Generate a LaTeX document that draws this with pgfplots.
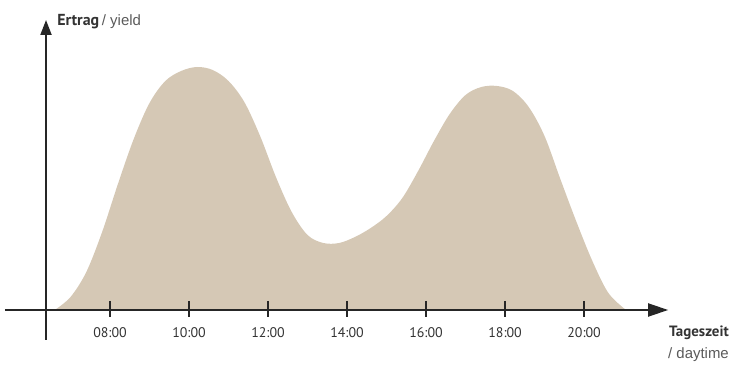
\documentclass[border=0pt]{standalone}
\usepackage{pgfplots}
\pgfplotsset{compat=1.18}
\usetikzlibrary{arrows.meta}
\usepackage{fontspec}
\setmainfont{PT Sans}
\newfontfamily\helv{Liberation Sans}
\definecolor{tan}{HTML}{D5C8B5}
\definecolor{txt}{HTML}{333333}
\definecolor{gtxt}{HTML}{5A5A5A}
\begin{document}
\begin{tikzpicture}
\begin{axis}[
  width=729bp, height=367bp, scale only axis,
  xmin=5.215, xmax=23.67, ymin=-57, ymax=310,
  hide axis, clip=false,
]
\path (rel axis cs:0,0) rectangle (rel axis cs:1,1);
\addplot[fill=tan, draw=none, smooth, tension=0.55] coordinates {
(6.6,0) (7.0,13) (7.4,38) (7.8,78) (8.2,126) (8.6,171) (9.0,207) (9.4,229) (9.8,239)
(10.2,243) (10.6,240) (11.0,229) (11.4,208) (11.8,174) (12.2,133) (12.6,98) (13.0,75)
(13.4,67) (13.8,67) (14.2,73) (14.6,82) (15.0,94) (15.4,112) (15.8,139) (16.2,169)
(16.6,196) (17.0,215) (17.4,223) (17.8,224) (18.2,219) (18.6,203) (19.0,174) (19.4,131)
(19.8,89) (20.2,50) (20.6,18) (21.0,2) (21.1,0)
};
% axes
\draw[line width=2bp, black!85, -{Triangle[length=15bp,width=11bp]}] (axis cs:6.38,-30) -- (axis cs:6.38,290);
\draw[line width=2bp, black!85, -{Triangle[length=20bp,width=13bp]}] (axis cs:5.34,0) -- (axis cs:22.13,0);
\addplot[only marks, mark=|, mark size=8bp, mark options={line width=2bp, black!85}] coordinates {(8,1) (10,1) (12,1) (14,1) (16,1) (18,1) (20,1)};
\node[font=\fontsize{14}{16}\selectfont, text=txt] at (axis cs:8,-23) {08:00};
\node[font=\fontsize{14}{16}\selectfont, text=txt] at (axis cs:10,-23) {10:00};
\node[font=\fontsize{14}{16}\selectfont, text=txt] at (axis cs:12,-23) {12:00};
\node[font=\fontsize{14}{16}\selectfont, text=txt] at (axis cs:14,-23) {14:00};
\node[font=\fontsize{14}{16}\selectfont, text=txt] at (axis cs:16,-23) {16:00};
\node[font=\fontsize{14}{16}\selectfont, text=txt] at (axis cs:18,-23) {18:00};
\node[font=\fontsize{14}{16}\selectfont, text=txt] at (axis cs:20,-23) {20:00};
\node[anchor=west, inner sep=0pt] at (axis cs:6.66,288) {\fontsize{16}{18}\selectfont\bfseries\color{txt}Ertrag\,\helv\mdseries\fontsize{15}{18}\selectfont\color{gtxt}/ yield};
\node[anchor=east, inner sep=0pt, font=\fontsize{15}{18}\selectfont\bfseries, text=txt] at (axis cs:23.67,-23) {Tageszeit};
\node[anchor=east, inner sep=0pt, font=\helv\fontsize{15}{18}\selectfont, text=gtxt] at (axis cs:23.67,-45) {/ daytime};
\end{axis}
\end{tikzpicture}
\end{document}
